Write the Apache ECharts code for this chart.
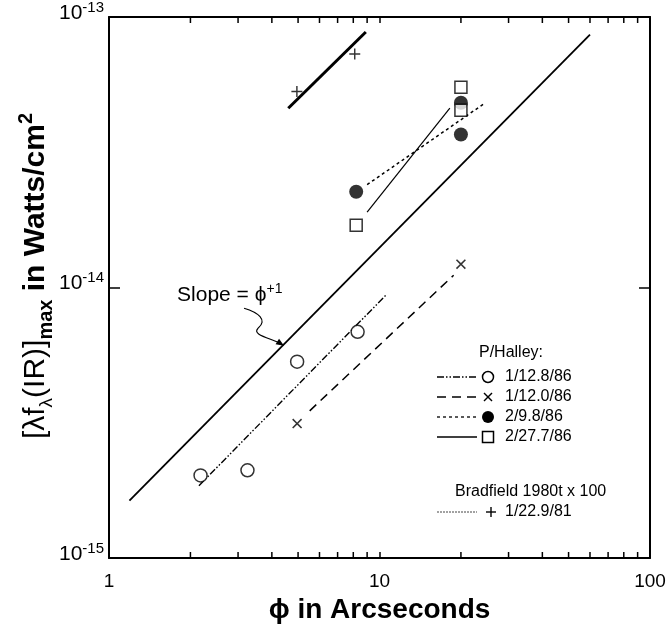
<!DOCTYPE html>
<html><head><meta charset="utf-8">
<script src="https://cdn.jsdelivr.net/npm/echarts@6/dist/echarts.min.js"></script>
<style>html,body{margin:0;padding:0;background:#fff}#c{width:668px;height:630px}</style>
</head><body><div id="c"></div>
<script>
// ---------- data ----------
const xTickLabels = ['1', '10', '100'];
const yTickExponents = [-15, -14, -13];
const minorXTicks = [2, 3, 4, 5, 6, 7, 8, 9, 20, 30, 40, 50, 60, 70, 80, 90];

const halley128Pts = [[2.18, 2.02e-15], [3.25, 2.11e-15], [4.96, 5.32e-15], [8.3, 6.86e-15]];
const halley128Fit = [[2.15, 1.85e-15], [10.65, 9.45e-15]];
const halley120Pts = [[4.96, 3.14e-15], [20.0, 1.22e-14]];
const halley120Fit = [[5.52, 3.5e-15], [18.8, 1.11e-14]];
const halley98Pts = [[8.2, 2.26e-14], [20.0, 4.82e-14], [20.0, 3.68e-14]];
const halley98Fit = [[9.0, 2.4e-14], [24.2, 4.76e-14]];
const halley277Pts = [[8.2, 1.70e-14], [20.0, 5.5e-14], [20.0, 4.52e-14]];
const halley277Fit = [[9.0, 1.9e-14], [18.2, 4.6e-14]];
const bradPts = [[4.95, 5.3e-14], [8.1, 7.3e-14]];
const bradFit = [[4.6, 4.6e-14], [8.9, 8.8e-14]];
const slopeLine = [[1.19, 1.63e-15], [60, 8.6e-14]];
const slopeArrowX = 4.4;

const seriesNames = ['1/12.8/86', '1/12.0/86', '2/9.8/86', '2/27.7/86', '1/22.9/81'];
const legendTitle1 = 'P/Halley:';
const legendTitle2 = 'Bradfield 1980t x 100';

// ---------- helpers ----------
const FONT = '"Liberation Sans", Arial, Helvetica, sans-serif';
const plusSym = 'path://M4.35,0H5.65V4.35H10V5.65H5.65V10H4.35V5.65H0V4.35H4.35Z';
function xSym() {
  const L = 5, h = 0.62;
  const pts = [[h,-L],[h,-h],[L,-h],[L,h],[h,h],[h,L],[-h,L],[-h,h],[-L,h],[-L,-h],[-h,-h],[-h,-L]];
  const r = pts.map(([x, y]) => [(x - y) / Math.SQRT2 + 5, (x + y) / Math.SQRT2 + 5]);
  return 'path://M' + r.map(p => p[0].toFixed(3) + ',' + p[1].toFixed(3)).join('L') + 'Z';
}
const DASH_DDOT = [7, 2, 1.5, 2, 1.5, 2];
const DASH_DASH = [9, 6];
const DASH_DOT = [3, 3];

function lineS(name, data, width, type, z) {
  return { name, type: 'line', data, symbol: 'none', silent: true, animation: false, z: z || 2,
    lineStyle: { color: '#000', width, type, cap: 'butt' } };
}

const chart = echarts.init(document.getElementById('c'), null, { renderer: 'canvas' });

const baseX = {
  type: 'log', logBase: 10, min: 1, max: 100, splitLine: { show: false },
  axisLine: { show: true, onZero: false, lineStyle: { color: '#000', width: 2 } },
  axisTick: { show: true, inside: true, length: 6, lineStyle: { color: '#000', width: 1.5 } },
};
const baseY = {
  type: 'log', logBase: 10, min: 1e-15, max: 1e-13, splitLine: { show: false },
  axisLine: { show: true, onZero: false, lineStyle: { color: '#000', width: 2 } },
  axisTick: { show: true, inside: true, length: 11, lineStyle: { color: '#000', width: 1.5 } },
};

const option = {
  backgroundColor: '#fff',
  animation: false,
  grid: { left: 109, top: 17, width: 541, height: 541, outerBoundsMode: 'none', containLabel: false },
  xAxis: [
    Object.assign({}, baseX, {
      position: 'bottom',
      axisLabel: { show: true, margin: 14, color: '#000', fontSize: 19, fontFamily: FONT,
        formatter: v => xTickLabels[Math.round(Math.log10(v))] },
      name: 'ϕ in Arcseconds', nameLocation: 'middle', nameGap: 37,
      nameTextStyle: { color: '#000', fontSize: 28, fontWeight: 'bold', fontFamily: FONT }
    }),
    Object.assign({}, baseX, { position: 'top', axisLabel: { show: false } })
  ],
  yAxis: [
    Object.assign({}, baseY, {
      position: 'left',
      axisLabel: {
        show: true, margin: 5, color: '#000', padding: [0, 0, 8, 0],
        formatter: v => {
          const e = Math.round(Math.log10(v));
          return yTickExponents.indexOf(e) >= 0 ? '{b|10}{s|' + e + '}' : '';
        },
        rich: {
          b: { fontSize: 21, fontFamily: FONT, lineHeight: 26, verticalAlign: 'middle', color: '#000' },
          s: { fontSize: 15, fontFamily: FONT, lineHeight: 15, verticalAlign: 'top', color: '#000' }
        }
      }
    }),
    Object.assign({}, baseY, { position: 'right', axisLabel: { show: false } })
  ],
  series: [
    // minor ticks on top & bottom x axes, positioned through the x scale
    {
      type: 'custom', silent: true, clip: false, z: 10,
      data: minorXTicks.map(v => [v, 1e-14]),
      encode: { x: 0, y: 1 },
      renderItem: (params, api) => {
        const b = api.coord([api.value(0), 1e-15]);
        const t = api.coord([api.value(0), 1e-13]);
        const st = { stroke: '#000', lineWidth: 1.5 };
        return { type: 'group', children: [
          { type: 'line', shape: { x1: b[0], y1: b[1], x2: b[0], y2: b[1] - 6 }, style: st },
          { type: 'line', shape: { x1: t[0], y1: t[1], x2: t[0], y2: t[1] + 6 }, style: st }
        ] };
      }
    },
    lineS('slope', slopeLine, 1.8, 'solid'),
    lineS(seriesNames[0] + ' fit', halley128Fit, 1.4, DASH_DDOT),
    lineS(seriesNames[1] + ' fit', halley120Fit, 1.5, DASH_DASH),
    lineS(seriesNames[2] + ' fit', halley98Fit, 1.5, DASH_DOT),
    lineS(seriesNames[3] + ' fit', halley277Fit, 1.2, 'solid'),
    lineS(seriesNames[4] + ' fit', bradFit, 3, 'solid'),
    { name: seriesNames[0], type: 'scatter', data: halley128Pts, symbol: 'circle', symbolSize: 13, z: 5,
      itemStyle: { color: '#fff', borderColor: '#000', borderWidth: 1.5 } },
    { name: seriesNames[1], type: 'scatter', data: halley120Pts, symbol: xSym(), symbolSize: 10, z: 5,
      itemStyle: { color: '#000' } },
    { name: seriesNames[2], type: 'scatter', data: halley98Pts, symbol: 'circle', symbolSize: 14, z: 5,
      itemStyle: { color: '#000' } },
    { name: seriesNames[3], type: 'scatter', data: halley277Pts, symbol: 'rect', symbolSize: 12, z: 6,
      itemStyle: { color: '#fff', borderColor: '#000', borderWidth: 1.5 } },
    { name: seriesNames[4], type: 'scatter', data: bradPts, symbol: plusSym, symbolSize: 11, z: 5,
      itemStyle: { color: '#000' } }
  ]
};
chart.setOption(option);

// ---------- annotations & legend ----------
const lx0 = Math.log10(slopeLine[0][0]), lx1 = Math.log10(slopeLine[1][0]);
const ly0 = Math.log10(slopeLine[0][1]), ly1 = Math.log10(slopeLine[1][1]);
const arrowY = Math.pow(10, ly0 + (ly1 - ly0) * (Math.log10(slopeArrowX) - lx0) / (lx1 - lx0));
const tip = chart.convertToPixel({ gridIndex: 0 }, [slopeArrowX, arrowY]);
const tx = tip[0], ty = tip[1];
const stroke = { stroke: '#000', lineWidth: 1.2, fill: null };

const g = [];
// y axis title
g.push({ type: 'text', x: 36, y: 276, rotation: Math.PI / 2, silent: true,
  style: { text: '{r|[λf}{rs|λ}{r|(IR)]}{bs|max}{b| in Watts/cm}{bp|2}', align: 'center', verticalAlign: 'middle', fill: '#000',
    rich: {
      r: { fontSize: 30, fontFamily: FONT, lineHeight: 40, verticalAlign: 'middle' },
      rs: { fontSize: 19, fontFamily: FONT, lineHeight: 22, verticalAlign: 'bottom' },
      bs: { fontSize: 20, fontFamily: FONT, fontWeight: 'bold', lineHeight: 22, verticalAlign: 'bottom' },
      b: { fontSize: 30, fontFamily: FONT, fontWeight: 'bold', lineHeight: 40, verticalAlign: 'middle' },
      bp: { fontSize: 20, fontFamily: FONT, fontWeight: 'bold', lineHeight: 20, verticalAlign: 'top' }
    } } });
// slope annotation
g.push({ type: 'text', x: tx - 106, y: ty - 50, silent: true,
  style: { text: '{a|Slope = ϕ}{s|+1}', align: 'left', verticalAlign: 'middle', fill: '#000',
    rich: { a: { fontSize: 21, fontFamily: FONT, lineHeight: 26, verticalAlign: 'middle' },
            s: { fontSize: 14, fontFamily: FONT, lineHeight: 14, verticalAlign: 'top' } } } });
g.push({ type: 'bezierCurve', silent: true, shape: { x1: tx - 39, y1: ty - 37, cpx1: tx - 25, cpy1: ty - 33, cpx2: tx - 15, cpy2: ty - 25, x2: tx - 25, y2: ty - 17 }, style: stroke });
g.push({ type: 'bezierCurve', silent: true, shape: { x1: tx - 25, y1: ty - 17, cpx1: tx - 31, cpy1: ty - 11, cpx2: tx - 17, cpy2: ty - 8, x2: tx - 5, y2: ty - 3 }, style: stroke });
g.push({ type: 'polygon', silent: true, shape: { points: [[tx + 1, ty + 0.5], [tx - 7.5, ty - 1], [tx - 4, ty - 6.5]] }, style: { fill: '#000' } });

// legend
const LX1 = 437, LX2 = 477, SX = 488, TX = 505;
const rows = [377, 397, 417, 437];
const txtStyle = (t, align) => ({ text: t, fontSize: 16, fontFamily: FONT, fill: '#000', align: align || 'left', verticalAlign: 'middle' });
g.push({ type: 'text', x: 511, y: 353, silent: true, style: txtStyle(legendTitle1, 'center') });
const dashes = [DASH_DDOT, DASH_DASH, DASH_DOT, null];
rows.forEach((y, i) => {
  g.push({ type: 'line', silent: true, shape: { x1: LX1, y1: y, x2: LX2, y2: y },
    style: { stroke: '#000', lineWidth: 1.3, lineDash: dashes[i] } });
  g.push({ type: 'text', x: TX, y: y, silent: true, style: txtStyle(seriesNames[i]) });
});
g.push({ type: 'circle', silent: true, shape: { cx: SX, cy: rows[0], r: 5.5 }, style: { fill: '#fff', stroke: '#000', lineWidth: 1.5 } });
g.push({ type: 'line', silent: true, shape: { x1: SX - 4, y1: rows[1] - 4, x2: SX + 4, y2: rows[1] + 4 }, style: { stroke: '#000', lineWidth: 1.4 } });
g.push({ type: 'line', silent: true, shape: { x1: SX - 4, y1: rows[1] + 4, x2: SX + 4, y2: rows[1] - 4 }, style: { stroke: '#000', lineWidth: 1.4 } });
g.push({ type: 'circle', silent: true, shape: { cx: SX, cy: rows[2], r: 6 }, style: { fill: '#000' } });
g.push({ type: 'rect', silent: true, shape: { x: SX - 5.5, y: rows[3] - 5.5, width: 11, height: 11 }, style: { fill: '#fff', stroke: '#000', lineWidth: 1.5 } });

g.push({ type: 'text', x: 455, y: 492, silent: true, style: txtStyle(legendTitle2) });
g.push({ type: 'line', silent: true, shape: { x1: LX1, y1: 512, x2: LX2, y2: 512 }, style: { stroke: '#444', lineWidth: 1, lineDash: [2, 1] } });
g.push({ type: 'line', silent: true, shape: { x1: SX + 3 - 5, y1: 512, x2: SX + 3 + 5, y2: 512 }, style: { stroke: '#000', lineWidth: 1.4 } });
g.push({ type: 'line', silent: true, shape: { x1: SX + 3, y1: 507, x2: SX + 3, y2: 517 }, style: { stroke: '#000', lineWidth: 1.4 } });
g.push({ type: 'text', x: TX, y: 512, silent: true, style: txtStyle(seriesNames[4]) });

chart.setOption({ graphic: { elements: g } });
</script>
</body></html>
